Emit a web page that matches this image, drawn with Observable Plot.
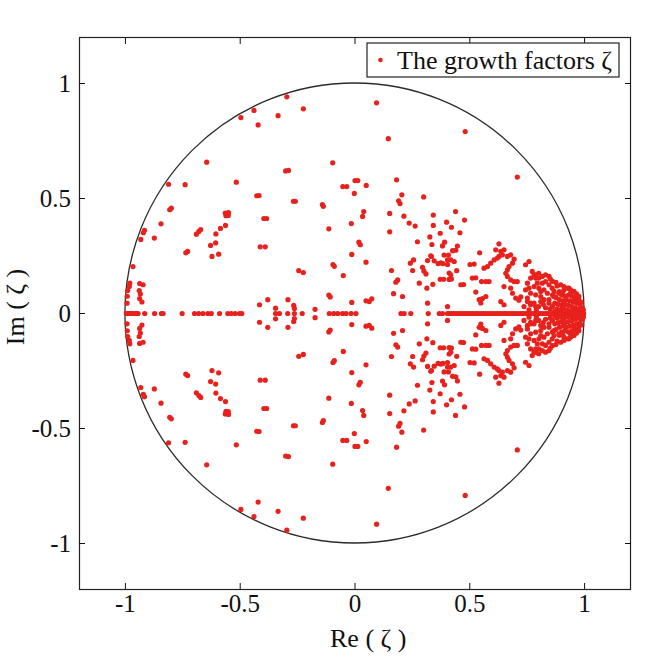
<!DOCTYPE html>
<html>
<head>
<meta charset="utf-8">
<script src="https://cdn.jsdelivr.net/npm/d3@7"></script>
<script src="https://cdn.jsdelivr.net/npm/@observablehq/plot@0.6"></script>
<style>
  html, body { margin: 0; padding: 0; background: #ffffff; }
  #chart { width: 650px; height: 658px; }
</style>
</head>
<body>
<div id="chart"></div>
<script>
// ---- Data: growth factors ζ (upper half-plane; the lower half holds the complex conjugates) ----
const reUpper = [
  -0.297,-0.225,-0.440,-0.497,-0.335,-0.422,-0.646,-0.097,-0.302,-0.290,
   0.000, 0.012,-0.812,-0.740,-0.517,-0.053,-0.036,-0.003,-0.428,-0.418,
  -0.268,-0.260,-0.142,-0.138,-0.807,-0.800,-0.565,-0.551,-0.562,-0.552,
  -0.397,-0.385,-0.845,-0.016,-0.564,-0.922,-0.917,-0.680,-0.672,-0.586,
  -0.114,-0.606,-0.691,-0.933,-0.874,-0.629,-0.607,-0.413,-0.391, 0.017,
   0.023,-0.729,-0.737,-0.623,-0.594,-0.014,-0.096,-0.090,-0.245,-0.225,
  -0.051,-0.967,-0.981,-0.983,-0.990,-0.992,-0.993,-0.938,-0.923,-0.940,
  -0.935,-0.938,-0.928,-0.114,-0.108,-0.380,-0.292,-0.416,-0.267,-0.264,
  -0.346,-0.014,-0.174,
   0.094, 0.145, 0.480, 0.707, 0.181, 0.049, 0.204, 0.299, 0.190, 0.196,
   0.038, 0.033, 0.151, 0.438, 0.213, 0.341, 0.399, 0.477, 0.236, 0.262,
   0.341, 0.420, 0.151, 0.371, 0.457, 0.326, 0.272, 0.390, 0.381, 0.335,
   0.446, 0.439, 0.425, 0.627, 0.613, 0.635, 0.649, 0.642, 0.627, 0.620,
   0.543, 0.330, 0.388, 0.407, 0.255, 0.241, 0.316, 0.333, 0.345, 0.693,
   0.048, 0.159, 0.186, 0.178, 0.168, 0.207, 0.048, 0.062, 0.073, 0.251,
   0.294, 0.300, 0.309, 0.280, 0.313, 0.339, 0.316, 0.362, 0.374, 0.383,
   0.403, 0.403, 0.417, 0.410, 0.417, 0.371, 0.386, 0.410, 0.420, 0.443,
   0.461, 0.473, 0.501, 0.519, 0.562, 0.577, 0.591, 0.606, 0.511, 0.526,
   0.551, 0.570, 0.584, 0.526, 0.541, 0.548, 0.555, 0.570, 0.403, 0.432,
   0.664, 0.678, 0.686, 0.671, 0.664, 0.657, 0.664, 0.678, 0.693, 0.707,
   0.743, 0.758, 0.772, 0.786, 0.801, 0.816, 0.830, 0.845, 0.896, 0.910,
   0.932, 0.954, 0.649, 0.678, 0.686, 0.700, 0.714, 0.722, 0.635, 0.649,
   0.751, 0.765, 0.787, 0.809, 0.780, 0.765, 0.787, 0.751, 0.758, 0.743,
   0.765, 0.780, 0.794, 0.801, 0.809, 0.787, 0.816, 0.830, 0.845, 0.823,
   0.838, 0.859, 0.867, 0.809, 0.823, 0.845, 0.867, 0.888, 0.910, 0.925,
   0.939, 0.751, 0.765, 0.780, 0.736, 0.758, 0.800, 0.851, 0.860, 0.875,
   0.880,
   0.900, 0.915, 0.930, 0.945, 0.960, 0.975, 0.890, 0.905, 0.920, 0.935,
   0.950, 0.965, 0.980, 0.990, 0.885, 0.900, 0.915, 0.930, 0.945, 0.960,
   0.975, 0.988, 0.880, 0.895, 0.910, 0.925, 0.940, 0.955, 0.970, 0.985,
   0.870, 0.860, 0.875, 0.890, 0.905, 0.940, 0.965, 0.975, 0.955, 0.985,
   0.870, 0.850, 0.830, 0.820, 0.845, 0.860, 0.800, 0.790, 0.995
];
const imUpper = [
   0.942, 0.890, 0.883, 0.852, 0.860, 0.820, 0.658, 0.655, 0.620, 0.622,
   0.578, 0.578, 0.562, 0.560, 0.571, 0.552, 0.552, 0.522, 0.512, 0.513,
   0.488, 0.488, 0.474, 0.466, 0.451, 0.458, 0.437, 0.439, 0.425, 0.426,
   0.413, 0.413, 0.390, 0.391, 0.383, 0.351, 0.362, 0.357, 0.365, 0.370,
   0.368, 0.346, 0.345, 0.322, 0.328, 0.296, 0.307, 0.290, 0.290, 0.310,
   0.299, 0.270, 0.264, 0.248, 0.258, 0.257, 0.213, 0.205, 0.186, 0.178,
   0.165, 0.204, 0.132, 0.117, 0.100, 0.075, 0.045, 0.130, 0.125, 0.100,
   0.085, 0.065, 0.050, 0.080, 0.072, 0.060, 0.060, 0.038, 0.035, 0.022,
   0.023, 0.048, 0.018,
   0.916, 0.760, 0.791, 0.593, 0.581, 0.557, 0.516, 0.507, 0.490, 0.478,
   0.443, 0.422, 0.435, 0.443, 0.423, 0.428, 0.397, 0.406, 0.393, 0.380,
   0.383, 0.375, 0.355, 0.349, 0.351, 0.333, 0.312, 0.310, 0.294, 0.300,
   0.293, 0.275, 0.273, 0.303, 0.277, 0.270, 0.277, 0.255, 0.248, 0.241,
   0.264, 0.251, 0.254, 0.254, 0.233, 0.219, 0.230, 0.248, 0.229, 0.236,
   0.223, 0.187, 0.146, 0.136, 0.086, 0.074, 0.055, 0.052, 0.064, 0.187,
   0.201, 0.185, 0.172, 0.132, 0.110, 0.127, 0.045, 0.217, 0.220, 0.217,
   0.213, 0.233, 0.233, 0.176, 0.168, 0.149, 0.149, 0.148, 0.150, 0.186,
   0.125, 0.126, 0.213, 0.215, 0.197, 0.204, 0.219, 0.233, 0.154, 0.155,
   0.139, 0.139, 0.139, 0.093, 0.060, 0.046, 0.065, 0.074, 0.030, 0.226,
   0.248, 0.255, 0.219, 0.204, 0.190, 0.175, 0.161, 0.146, 0.139, 0.139,
   0.212, 0.226, 0.183, 0.168, 0.154, 0.161, 0.168, 0.161, 0.125, 0.117,
   0.110, 0.096, 0.117, 0.110, 0.088, 0.067, 0.058, 0.072, 0.052, 0.038,
   0.052, 0.038, 0.030, 0.052, 0.168, 0.154, 0.154, 0.132, 0.110, 0.103,
   0.088, 0.117, 0.132, 0.110, 0.096, 0.081, 0.132, 0.139, 0.125, 0.103,
   0.088, 0.110, 0.096, 0.074, 0.060, 0.060, 0.074, 0.088, 0.103, 0.110,
   0.103, 0.067, 0.045, 0.045, 0.030, 0.016, 0.175, 0.150, 0.140, 0.135,
   0.120,
   0.080, 0.075, 0.080, 0.075, 0.070, 0.060, 0.060, 0.055, 0.060, 0.055,
   0.050, 0.045, 0.040, 0.025, 0.040, 0.035, 0.040, 0.035, 0.030, 0.025,
   0.020, 0.010, 0.020, 0.015, 0.020, 0.015, 0.012, 0.010, 0.008, 0.005,
   0.045, 0.030, 0.070, 0.095, 0.090, 0.090, 0.085, 0.075, 0.060, 0.050,
   0.010, 0.020, 0.025, 0.040, 0.045, 0.080, 0.030, 0.015, 0.015
];
// growth factors lying on the real axis (Im ζ = 0)
const reAxis = [
  -0.996,-0.991,-0.986,-0.981,-0.977,-0.972,-0.966,-0.960,-0.955,-0.950,
  -0.945,-0.916,-0.873,-0.843,-0.836,-0.753,-0.699,-0.681,-0.662,-0.641,
  -0.626,-0.590,-0.554,-0.539,-0.522,-0.503,-0.493,-0.346,-0.329,-0.293,
  -0.264,-0.230,-0.112,-0.093,-0.075,-0.054,-0.039,-0.017, 0.004, 0.200,
   0.214, 0.243, 0.319, 0.367, 0.381, 0.403,
   0.410, 0.420, 0.430, 0.440, 0.450, 0.460, 0.470, 0.480, 0.490, 0.500,
   0.510, 0.520, 0.530, 0.540, 0.550, 0.560, 0.570, 0.580, 0.590, 0.600,
   0.610, 0.620, 0.630, 0.640, 0.650, 0.660, 0.670, 0.680, 0.690, 0.700,
   0.710, 0.720, 0.730, 0.740, 0.750, 0.760, 0.770, 0.780, 0.790, 0.800,
   0.810, 0.820, 0.830, 0.840, 0.850, 0.860, 0.870, 0.880, 0.890, 0.900,
   0.910, 0.920, 0.930, 0.940, 0.950, 0.960, 0.970, 0.980, 0.990, 0.996
];
const tickValues = [-1, -0.5, 0, 0.5, 1];
const tickLabels = ["-1", "-0.5", "0", "0.5", "1"];
const legendLabel = "The growth factors ζ";
const xLabel = "Re ( ζ )";
const yLabel = "Im ( ζ )";

// ---- Build table ----
const points = [];
reUpper.forEach((re, i) => {
  points.push({re, im: imUpper[i]});
  points.push({re, im: -imUpper[i]});
});
reAxis.forEach(re => points.push({re, im: 0}));

const serif = "'Liberation Serif', 'Times New Roman', 'DejaVu Serif', serif";
const red = "#e8211d";
const fmt = d => tickLabels[tickValues.indexOf(d)];

// unit circle drawn through the scales
function unitCircle(index, scales) {
  const {x, y} = scales;
  const g = d3.create("svg:g");
  g.append("ellipse")
    .attr("cx", x(0)).attr("cy", y(0))
    .attr("rx", x(1) - x(0)).attr("ry", y(0) - y(1))
    .attr("fill", "none").attr("stroke", "#2b2b2b").attr("stroke-width", 1.3);
  return g.node();
}

// legend + axis titles
function decorations(index, scales, values, dims) {
  const {width, height, marginLeft, marginRight, marginTop, marginBottom} = dims;
  const g = d3.create("svg:g").attr("font-family", serif).attr("fill", "#111");
  const right = width - marginRight;
  const lw = 252, lh = 34;
  const lx = right - 11 - lw, ly = marginTop + 6;
  g.append("rect").attr("x", lx).attr("y", ly).attr("width", lw).attr("height", lh)
    .attr("fill", "white").attr("stroke", "#222").attr("stroke-width", 1.2);
  g.append("circle").attr("cx", lx + 13.5).attr("cy", ly + lh / 2).attr("r", 2.3).attr("fill", red);
  g.append("text").attr("x", lx + 30).attr("y", ly + 25.5).attr("font-size", 26)
    .attr("text-anchor", "start").text(legendLabel);
  const bottom = height - marginBottom;
  g.append("text").attr("x", marginLeft + 251).attr("y", bottom + 58)
    .attr("text-anchor", "start").attr("font-size", 26).text(xLabel);
  g.append("text")
    .attr("transform", `translate(24,${(marginTop + bottom) / 2 - 6}) rotate(-90)`)
    .attr("text-anchor", "middle").attr("font-size", 26).text(yLabel);
  return g.node();
}

const chart = Plot.plot({
  width: 650,
  height: 658,
  marginLeft: 79,
  marginRight: 20,
  marginTop: 37,
  marginBottom: 69,
  style: {fontFamily: serif, fontSize: "25px", color: "#111", background: "white"},
  x: {domain: [-1.2, 1.2], label: null},
  y: {domain: [-1.2, 1.2], label: null},
  marks: [
    unitCircle,
    Plot.dot(points, {x: "re", y: "im", r: 2.6, fill: red, stroke: "none"}),
    Plot.frame({stroke: "#222", strokeWidth: 1.2}),
    Plot.axisX({anchor: "bottom", ticks: tickValues, tickFormat: fmt, tickSize: -6, tickPadding: 11, label: null, fontSize: 25}),
    Plot.axisX({anchor: "top", ticks: tickValues, tickFormat: () => "", tickSize: -6, label: null}),
    Plot.axisY({anchor: "left", ticks: tickValues, tickFormat: fmt, tickSize: -6, tickPadding: 14.5, label: null, fontSize: 25}),
    Plot.axisY({anchor: "right", ticks: tickValues, tickFormat: () => "", tickSize: -6, label: null}),
    decorations
  ]
});
document.getElementById("chart").appendChild(chart);
</script>
</body>
</html>
